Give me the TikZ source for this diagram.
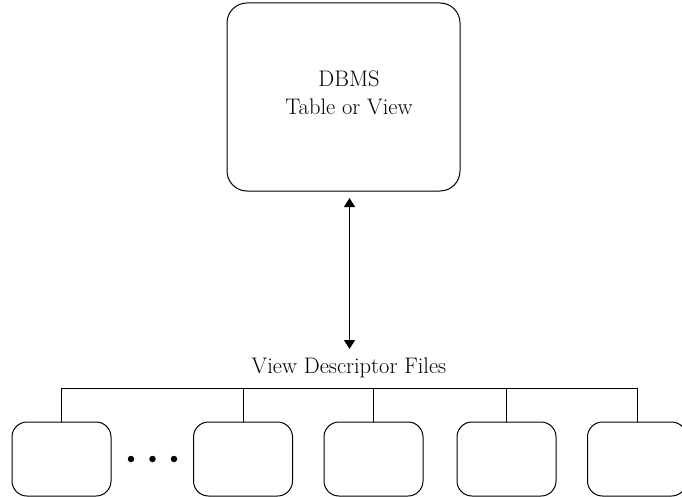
\documentclass[tikz,border=0pt]{standalone}
\usetikzlibrary{arrows.meta}
\begin{document}
\begin{tikzpicture}[x=1pt,y=-1pt,
  line width=1pt,
  bigbox/.style={draw, rounded corners=20pt, minimum width=233pt, minimum height=188pt, inner sep=0pt},
  filebox/.style={draw, rounded corners=15pt, minimum width=99pt, minimum height=74pt, inner sep=0pt},
  label/.style={font=\fontsize{22.5}{28}\selectfont, inner sep=0pt, align=center},
  dot/.style={circle, fill, inner sep=0pt, minimum size=6.5pt},
  link/.style={{Triangle[length=9pt,width=11pt]}-{Triangle[length=9pt,width=11pt]}}]
  \useasboundingbox (0,0) rectangle (682,497);

  % source table box
  \node[bigbox] (db) at (343.5,97) {};
  \node[label] (dbtext) at (349,93) {DBMS\\Table or View};

  % descriptor files caption
  \node[label, anchor=base] (vdf) at (349,373) {View Descriptor Files};
  \coordinate (top) at (349.5,198);
  \coordinate (bot) at (349.5,349);
  \draw[link] (top) -- (bot);

  % file boxes
  \node[filebox] (f1) at (61.5,459) {};
  \node[filebox] (f2) at (243,459) {};
  \node[filebox] (f3) at (373.5,459) {};
  \node[filebox] (f4) at (506.5,459) {};
  \node[filebox] (f5) at (637,459) {};

  % ellipsis between the first two boxes
  \node[dot] (d1) at (131,459) {};
  \node[dot] (d2) at (152.5,459) {};
  \node[dot] (d3) at (174,459) {};

  % tree bus
  \coordinate (bus) at (0,388);
  \draw (f1.north |- bus) -- (f5.north |- bus);
  \foreach \f in {f1,f2,f3,f4,f5}
    \draw (\f.north |- bus) -- (\f.north);
\end{tikzpicture}
\end{document}
